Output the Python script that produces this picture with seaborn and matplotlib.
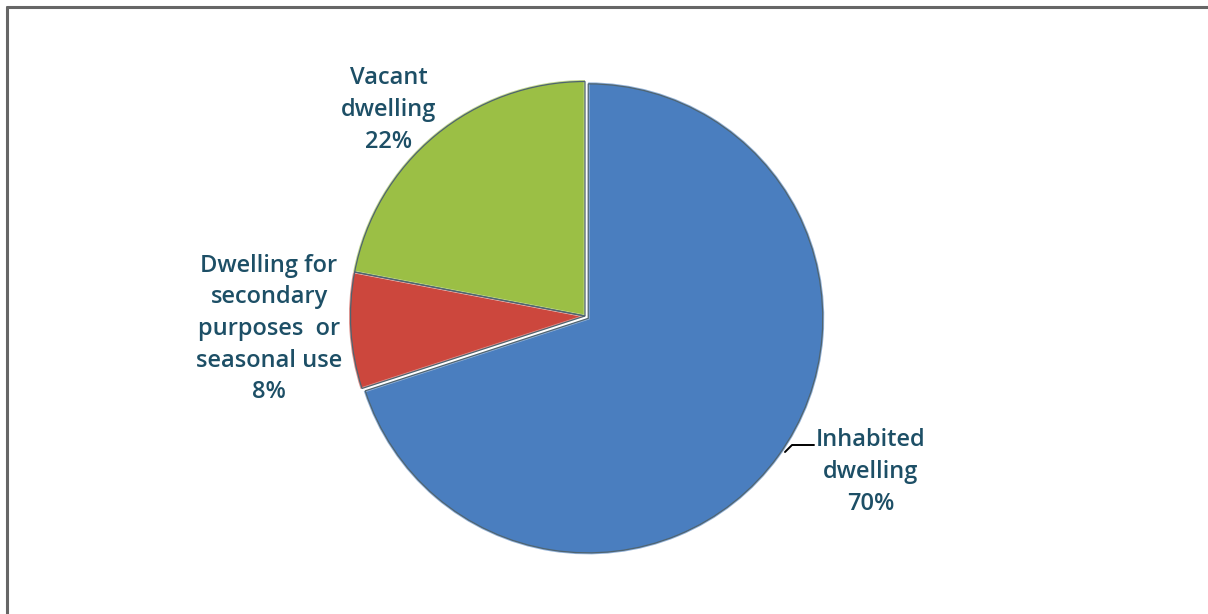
import matplotlib
matplotlib.use("Agg")
import matplotlib.pyplot as plt
from matplotlib.lines import Line2D
import seaborn as sns

# Dwelling stock by occupancy status (%)
categories = ["Inhabited\ndwelling", "Dwelling for\nsecondary\npurposes  or\nseasonal use", "Vacant\ndwelling"]
shares = [70, 8, 22]
colors = ["#4a7ebf", "#cc473d", "#9bbf45"]

sns.set_theme(style="white")
plt.rcParams["font.family"] = ["Open Sans", "DejaVu Sans"]

W, H = 1208, 614
fig = plt.figure(figsize=(W / 100, H / 100), dpi=100)
ax = fig.add_axes([0, 0, 1, 1])

cx, cy, r = 585, H - 316, 236
explode = [4, 0, 0]
wedges, _ = ax.pie(
    shares,
    colors=colors,
    startangle=90,
    counterclock=False,
    explode=explode,
    center=(cx, cy),
    radius=r,
    frame=True,
    wedgeprops=dict(linewidth=2.0, edgecolor=(1, 1, 1, 0.4)),
)
# thin darker outline just inside each slice
ax.pie(
    shares,
    colors=["none"] * len(shares),
    startangle=90,
    counterclock=False,
    explode=explode,
    center=(cx, cy),
    radius=r - 1.5,
    frame=True,
    wedgeprops=dict(linewidth=0.9, edgecolor="#4f6470", fill=False),
)
ax.set_xlim(0, W)
ax.set_ylim(0, H)
ax.set_aspect("equal")
ax.axis("off")

label_color = "#1d4f66"
label_kw = dict(ha="center", va="center", fontsize=17, color=label_color,
                linespacing=1.42, fontweight="semibold")
ax.text(389, H - 110, f"{categories[2]}\n{shares[2]}%", **label_kw)
ax.text(269, H - 329, f"{categories[1]}\n{shares[1]}%", **label_kw)
ax.text(871, H - 472, f"{categories[0]}\n{shares[0]}%", **label_kw)

# leader line for the inhabited slice
ax.plot([785, 792, 814], [H - 452, H - 445, H - 445], color="black", lw=1.4)

# frame lines along top and left edges
fig.add_artist(Line2D([7 / W, 1], [1 - 7 / H, 1 - 7 / H], color="#666666", lw=2.2, transform=fig.transFigure))
fig.add_artist(Line2D([7 / W, 7 / W], [0, 1 - 7 / H], color="#666666", lw=2.2, transform=fig.transFigure))

fig.savefig("out.png", dpi=100, facecolor="white")
